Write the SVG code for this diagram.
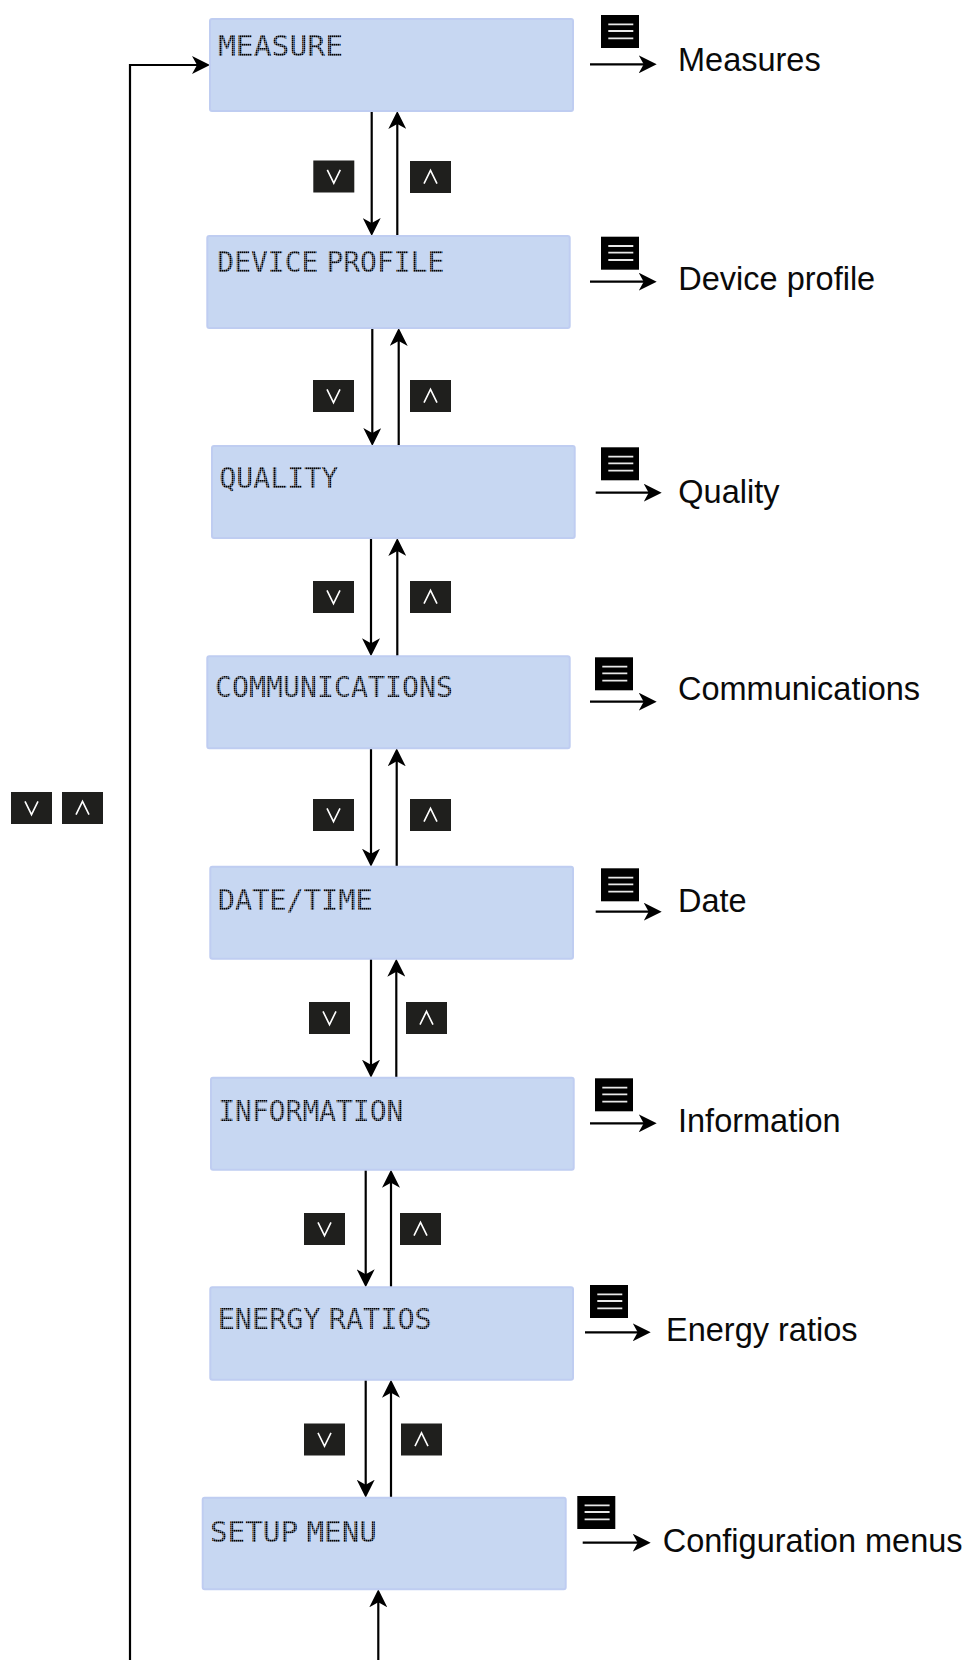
<svg xmlns="http://www.w3.org/2000/svg" width="971" height="1660" viewBox="0 0 971 1660">
<style>
.box{fill:#c7d7f2;stroke:#bfcdf1;stroke-width:2}
.lcd{font-family:"DejaVu Sans Mono","Liberation Mono",monospace;font-size:28.5px;fill:url(#dots);word-spacing:-9px}
.lbl{font-family:"Liberation Sans",Arial,sans-serif;font-size:32.5px;fill:#0a0a0a}
.btn{fill:#1f1f1d}
.chev{fill:none;stroke:#fff;stroke-width:1.6}
.menu{fill:#000}
.mline{stroke:#e8e8e8;stroke-width:1.8}
.con{fill:none;stroke:#000;stroke-width:2.2}
</style>
<defs>
<pattern id="dots" width="2" height="2" patternUnits="userSpaceOnUse"><rect width="1.6" height="1.6" fill="#000"/></pattern>
<marker id="ah" viewBox="0 0 18 18" refX="14" refY="9" markerWidth="18" markerHeight="18" orient="auto" markerUnits="userSpaceOnUse"><path d="M0,0 L18,9 L0,18 L5,9 Z" fill="#000"/></marker>
<g id="bdown"><rect class="btn" width="41" height="32"/><path class="chev" d="M14,9.4 L20.5,22.6 L27,9.4"/></g>
<g id="bup"><rect class="btn" width="41" height="32"/><path class="chev" d="M14,22.6 L20.5,9.4 L27,22.6"/></g>
<g id="micon"><rect class="menu" width="38" height="33"/><path class="mline" d="M7.3,9.3 H32.3 M7.3,16 H32.3 M7.3,23.3 H32.3"/></g>
</defs>

<g id="connectors">
<path class="con" d="M130,1660 V65 H206" marker-end="url(#ah)"/>
<path class="con" d="M371.7,111 V232" marker-end="url(#ah)"/>
<path class="con" d="M397.3,236 V115" marker-end="url(#ah)"/>
<path class="con" d="M372.3,328 V442" marker-end="url(#ah)"/>
<path class="con" d="M398.7,446 V332" marker-end="url(#ah)"/>
<path class="con" d="M371,538 V652.3" marker-end="url(#ah)"/>
<path class="con" d="M397.3,656.3 V542" marker-end="url(#ah)"/>
<path class="con" d="M371,748.3 V862.7" marker-end="url(#ah)"/>
<path class="con" d="M396.7,866.7 V752.3" marker-end="url(#ah)"/>
<path class="con" d="M371,958.7 V1073.7" marker-end="url(#ah)"/>
<path class="con" d="M396.3,1077.7 V962.7" marker-end="url(#ah)"/>
<path class="con" d="M365.7,1169.7 V1283.3" marker-end="url(#ah)"/>
<path class="con" d="M391,1287.3 V1173.7" marker-end="url(#ah)"/>
<path class="con" d="M365.7,1379.7 V1493.7" marker-end="url(#ah)"/>
<path class="con" d="M391,1497.7 V1383.7" marker-end="url(#ah)"/>
<path class="con" d="M378.3,1660 V1593.3" marker-end="url(#ah)"/>
<path class="con" d="M590,64.3 H652.7" marker-end="url(#ah)"/>
<path class="con" d="M590,281.7 H652.7" marker-end="url(#ah)"/>
<path class="con" d="M595.7,492.7 H657.7" marker-end="url(#ah)"/>
<path class="con" d="M590,701.7 H652.7" marker-end="url(#ah)"/>
<path class="con" d="M595.7,911.7 H657.7" marker-end="url(#ah)"/>
<path class="con" d="M590,1123.3 H652.7" marker-end="url(#ah)"/>
<path class="con" d="M585,1332.3 H646.7" marker-end="url(#ah)"/>
<path class="con" d="M582.7,1542.7 H646.7" marker-end="url(#ah)"/>
</g>

<g id="buttons">
<use href="#bdown" x="11" y="792"/><use href="#bup" x="62" y="792"/>
<use href="#bdown" x="313.3" y="160.5"/><use href="#bup" x="410" y="161"/>
<use href="#bdown" x="313" y="380"/><use href="#bup" x="410" y="380"/>
<use href="#bdown" x="313" y="581"/><use href="#bup" x="410" y="581"/>
<use href="#bdown" x="313" y="799"/><use href="#bup" x="410" y="799"/>
<use href="#bdown" x="309" y="1002"/><use href="#bup" x="406" y="1002"/>
<use href="#bdown" x="304" y="1213"/><use href="#bup" x="400" y="1213"/>
<use href="#bdown" x="304" y="1423.5"/><use href="#bup" x="401" y="1423.5"/>
</g>

<g id="node-measure">
<rect class="box" x="210" y="19" width="363" height="92" rx="2"/>
<text class="lcd" x="218" y="56" textLength="125" lengthAdjust="spacingAndGlyphs">MEASURE</text>
<use href="#micon" x="601" y="15"/>
<text class="lbl" x="678" y="71">Measures</text>
</g>
<g id="node-device-profile">
<rect class="box" x="207.3" y="236" width="362.4" height="92" rx="2"/>
<text class="lcd" x="217.3" y="272.3" textLength="227" lengthAdjust="spacingAndGlyphs">DEVICE PROFILE</text>
<use href="#micon" x="601" y="236.7"/>
<text class="lbl" x="678.3" y="290">Device profile</text>
</g>
<g id="node-quality">
<rect class="box" x="212" y="446" width="362.7" height="92" rx="2"/>
<text class="lcd" x="219.3" y="487.5" textLength="119" lengthAdjust="spacingAndGlyphs">QUALITY</text>
<use href="#micon" x="601" y="447.3"/>
<text class="lbl" x="678.3" y="503.3">Quality</text>
</g>
<g id="node-communications">
<rect class="box" x="207.3" y="656.3" width="362.4" height="92" rx="2"/>
<text class="lcd" x="215" y="696.7" textLength="238" lengthAdjust="spacingAndGlyphs">COMMUNICATIONS</text>
<use href="#micon" x="595" y="657.3"/>
<text class="lbl" x="678" y="700">Communications</text>
</g>
<g id="node-date-time">
<rect class="box" x="210.3" y="866.7" width="362.7" height="92" rx="2"/>
<text class="lcd" x="217.7" y="910" textLength="155" lengthAdjust="spacingAndGlyphs">DATE/TIME</text>
<use href="#micon" x="601" y="868.3"/>
<text class="lbl" x="678" y="911.7">Date</text>
</g>
<g id="node-information">
<rect class="box" x="211" y="1077.7" width="362.7" height="92" rx="2"/>
<text class="lcd" x="218.3" y="1120.7" textLength="185" lengthAdjust="spacingAndGlyphs">INFORMATION</text>
<use href="#micon" x="595" y="1078.3"/>
<text class="lbl" x="678" y="1131.7">Information</text>
</g>
<g id="node-energy-ratios">
<rect class="box" x="210.3" y="1287.3" width="362.7" height="92.4" rx="2"/>
<text class="lcd" x="217.7" y="1329" textLength="214" lengthAdjust="spacingAndGlyphs">ENERGY RATIOS</text>
<use href="#micon" x="590" y="1285"/>
<text class="lbl" x="666" y="1340.7">Energy ratios</text>
</g>
<g id="node-setup-menu">
<rect class="box" x="202.7" y="1497.7" width="363" height="91.6" rx="2"/>
<text class="lcd" x="210" y="1541.7" textLength="167" lengthAdjust="spacingAndGlyphs">SETUP MENU</text>
<use href="#micon" x="577.3" y="1496"/>
<text class="lbl" x="662.7" y="1551.7">Configuration menus</text>
</g>
</svg>
